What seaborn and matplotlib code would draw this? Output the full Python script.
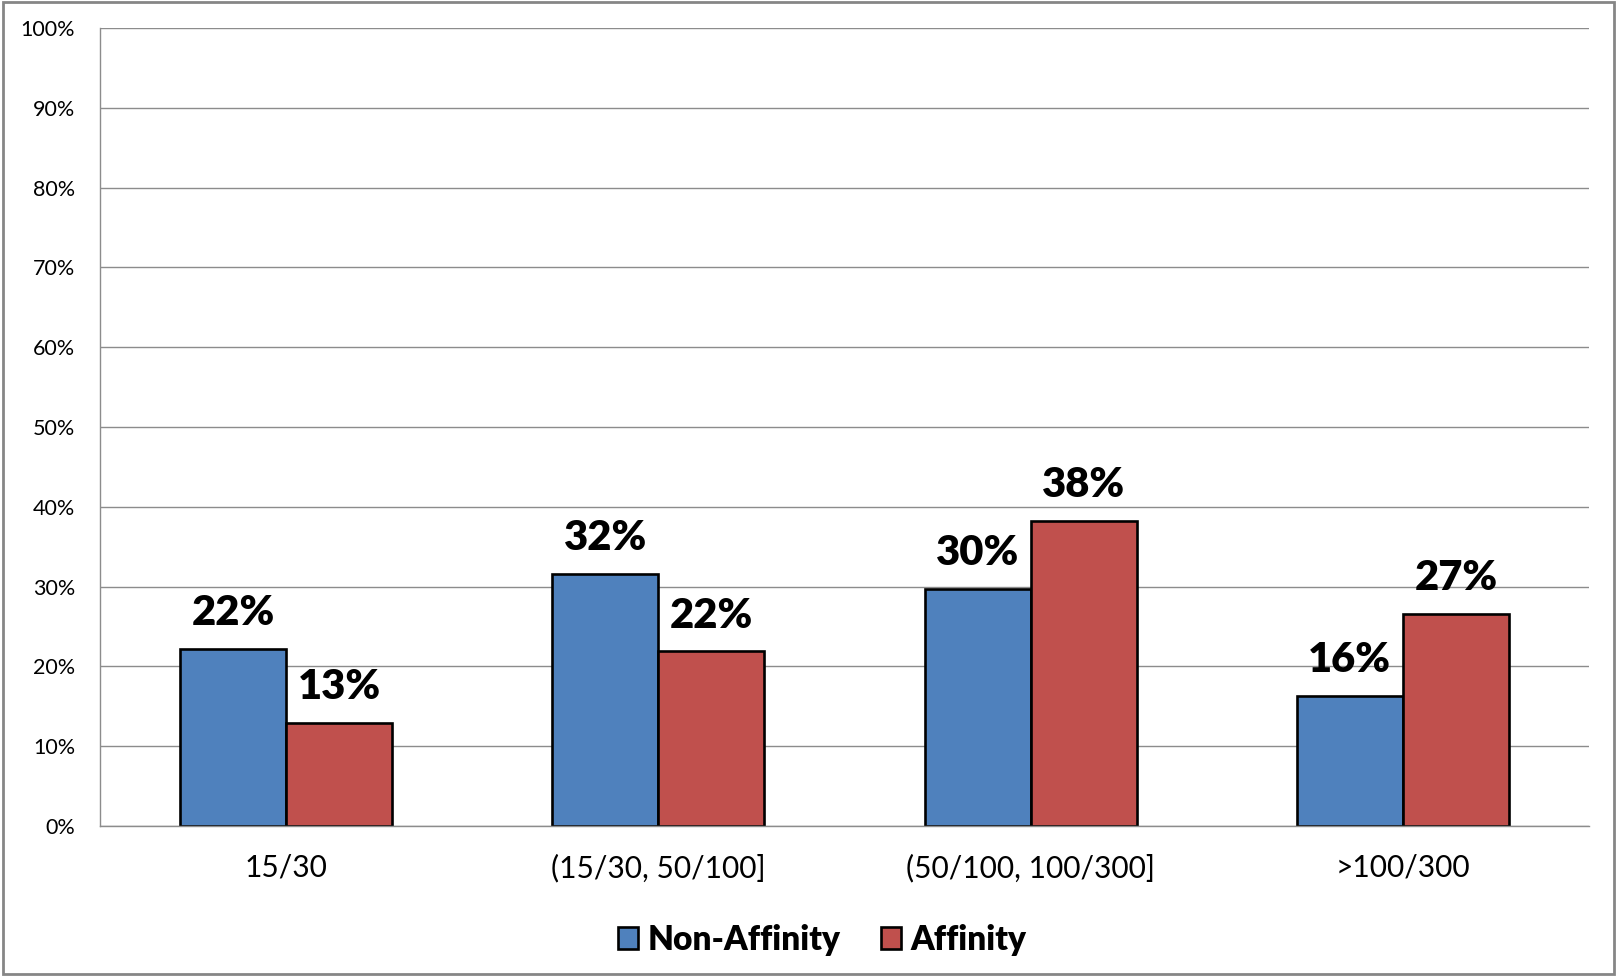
import pandas as pd
import matplotlib.pyplot as plt
import seaborn as sns
from matplotlib.patches import Rectangle
from matplotlib.ticker import PercentFormatter, FixedLocator

# Data
categories = ["15/30", "(15/30, 50/100]", "(50/100, 100/300]", ">100/300"]
non_affinity = [22.2, 31.6, 29.7, 16.3]
affinity = [12.9, 21.9, 38.2, 26.6]
series_names = ["Non-Affinity", "Affinity"]
colors = ["#4F81BD", "#C0504D"]

data = pd.DataFrame({
    "category": categories * 2,
    "value": non_affinity + affinity,
    "series": [series_names[0]] * 4 + [series_names[1]] * 4,
})

sns.set_style("white")
plt.rcParams["font.family"] = ["Lato", "DejaVu Sans"]
plt.rcParams["text.color"] = "black"
plt.rcParams["xtick.color"] = "black"
plt.rcParams["ytick.color"] = "black"

fig = plt.figure(figsize=(16.17, 9.76), dpi=100)
ax = fig.add_axes([0.0618, 0.1537, 0.9209, 0.8176])

sns.barplot(data=data, x="category", y="value", hue="series", palette=colors,
            width=0.57, edgecolor="black", linewidth=1.9, ax=ax, saturation=1)

for container in ax.containers:
    ax.bar_label(container, fmt="%.0f%%", padding=12, fontsize=30, fontweight="heavy",
                 color="black")

ax.set_ylim(0, 100)
ax.set_xlim(-0.5, 3.5)
ax.set_yticks(range(0, 101, 10))
ax.yaxis.set_major_formatter(PercentFormatter(decimals=0))
ax.grid(axis="y", color="#8c8c8c", linewidth=1)
ax.set_axisbelow(True)
ax.set_xlabel("")
ax.set_ylabel("")

for side in ["top", "right"]:
    ax.spines[side].set_visible(False)
for side in ["left", "bottom"]:
    ax.spines[side].set_color("#8c8c8c")
    ax.spines[side].set_linewidth(1)

ax.tick_params(axis="y", labelsize=15.5, labelcolor="black", length=6, color="#8c8c8c", pad=12)
ax.tick_params(axis="x", which="major", labelsize=21.5, labelcolor="black", length=0, pad=20)
ax.xaxis.set_minor_locator(FixedLocator([-0.5, 0.5, 1.5, 2.5, 3.5]))
ax.tick_params(axis="x", which="minor", length=8, color="#8c8c8c", width=1)

handles, labels = ax.get_legend_handles_labels()
ax.legend(handles, labels, loc="upper center", bbox_to_anchor=(0.485, -0.085), ncol=2,
          frameon=False, prop={"weight": "heavy", "size": 24},
          handlelength=0.6, handleheight=0.6, handletextpad=0.3, columnspacing=1.2)

# chart outline
fig.patches.append(Rectangle((0.002, 0.002), 0.996, 0.996, transform=fig.transFigure,
                             fill=False, edgecolor="#868686", linewidth=2))

plt.savefig("out.png", dpi=100)
plt.close()
